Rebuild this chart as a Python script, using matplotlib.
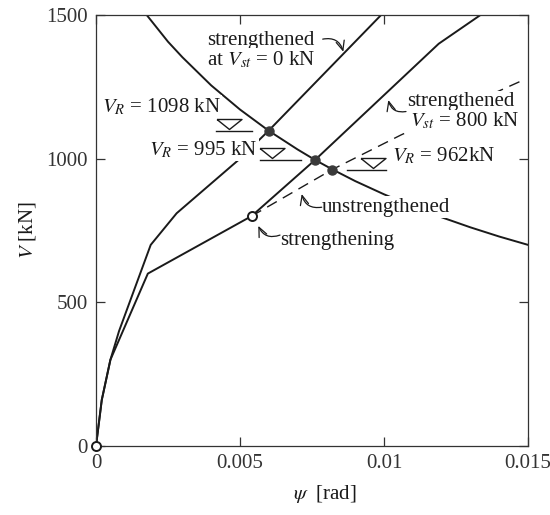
import matplotlib
matplotlib.use('Agg')
import matplotlib.pyplot as plt

plt.rcParams['font.family'] = ['Liberation Serif', 'DejaVu Serif']
plt.rcParams['mathtext.fontset'] = 'stix'
plt.rcParams['font.size'] = 15

INK = '#1a1a1a'

# load-rotation curves (psi in rad, V in kN)
psi_unstr = [0, 0.0002, 0.0005, 0.0018, 0.0054]
V_unstr = [0, 160, 300, 600, 800]
psi_unstr_ext = [0.0054, 0.0082, 0.0106, 0.0148]
V_unstr_ext = [800, 962, 1083, 1272]
psi_st0 = [0, 0.0002, 0.0005, 0.0008, 0.0019, 0.0028, 0.0050, 0.0060, 0.0099]
V_st0 = [0, 160, 300, 400, 700, 810, 1000, 1098, 1500]
psi_st800 = [0.0054, 0.0076, 0.0119, 0.01335]
V_st800 = [800, 995, 1400, 1500]

# failure criterion
psi_fail = [0.00176, 0.0025, 0.003, 0.004, 0.005, 0.006, 0.007, 0.0076, 0.0082,
            0.009, 0.010, 0.011, 0.012, 0.013, 0.014, 0.015]
V_fail = [1500, 1407, 1353, 1255, 1171, 1097, 1032, 996, 963,
          922, 876, 834, 796, 761, 729, 700]

# intersections
psi_R = [0.0060, 0.0076, 0.0082]
V_R = [1098, 995, 962]
psi_open = [0, 0.0054]
V_open = [0, 800]

xticks = [0, 0.005, 0.01, 0.015]
xtick_labels = ['0', '0.005', '0.01', '0.015']
yticks = [0, 500, 1000, 1500]

fig = plt.figure(figsize=(5.5, 5.15), dpi=100)
ax = fig.add_axes([96/550, 69/515, 432/550, 431/515])

ax.plot(psi_unstr, V_unstr, color=INK, lw=1.4, zorder=2)
ax.plot(psi_unstr_ext, V_unstr_ext, color=INK, lw=1.0, dashes=(8, 5), zorder=2)
ax.plot(psi_st0, V_st0, color=INK, lw=1.4, zorder=2)
ax.plot(psi_st800, V_st800, color=INK, lw=1.4, zorder=2)
ax.plot(psi_fail, V_fail, color=INK, lw=1.4, zorder=2)

ax.plot(psi_R, V_R, 'o', ms=6.5, color='#3a3a3a', zorder=5)
ax.plot(psi_open, V_open, 'o', ms=6.5, mfc='white', mec=INK, mew=1.4,
        zorder=5, clip_on=False)

# V_R level symbols
tri = [(-1.25, 1), (1.25, 1), (0, 0), (-1.25, 1)]
sym_lines = [(0.00417, 0.00542), (0.00569, 0.00711), (0.0087, 0.01007)]
sym_tri = [0.00462, 0.0061, 0.00963]
for (x0, x1), xt, v in zip(sym_lines, sym_tri, V_R):
    ax.plot([x0, x1], [v, v], color=INK, lw=1.0, zorder=4)
    ax.plot([xt], [v + 6], marker=tri, ms=18, mfc='white', mec=INK, mew=1.0,
            ls='none', zorder=4)

box = dict(facecolor='white', edgecolor='none', pad=1)
txt = dict(color=INK, va='baseline', ha='left', zorder=3, bbox=box)
ax.text(0.003865, 1396, 'strengthened', **txt)
ax.text(0.003865, 1326, r'at $V_{st}$ = 0 kN', **txt)
ax.text(0.000198, 1162, r'$V_R$ = 1098 kN', **txt)
ax.text(0.00185, 1013, r'$V_R$ = 995 kN', **txt)
ax.text(0.010267, 992, r'$V_R$ = 962kN', **txt)
ax.text(0.010809, 1183, 'strengthened', **txt)
ax.text(0.0109, 1111, r'$V_{st}$ = 800 kN', **txt)
ax.text(0.007837, 815, 'unstrengthened', **txt)
ax.text(0.006389, 700, 'strengthening', **txt)

arrows = [((0.007872, 1416), (0.008587, 1372)),
          ((0.010764, 1164), (0.01015, 1204)),
          ((0.007837, 831), (0.007142, 877)),
          ((0.006389, 734), (0.005635, 766))]
for tail, head in arrows:
    ax.annotate('', xy=head, xytext=tail, zorder=6,
                arrowprops=dict(arrowstyle='->,head_length=0.45,head_width=0.2',
                                connectionstyle='arc3,rad=-0.45', color=INK,
                                lw=0.9, shrinkA=0, shrinkB=0))

ax.set_xlim(0, 0.015)
ax.set_ylim(0, 1500)
ax.set_xticks(xticks)
ax.set_xticklabels(xtick_labels)
ax.set_yticks(yticks)
ax.tick_params(direction='in', length=6.5, width=0.9, colors='#333333',
               top=True, right=True, pad=6, labelsize=15)
for s in ax.spines.values():
    s.set_color('#333333')
    s.set_linewidth(0.9)

ax.set_xlabel(r'$\psi$  [rad]', color=INK, labelpad=6)
ax.xaxis.set_label_coords(0.53, -0.085)
ax.set_ylabel(r'$V$ [kN]', color=INK, labelpad=6)

fig.savefig('out.png', dpi=100)
